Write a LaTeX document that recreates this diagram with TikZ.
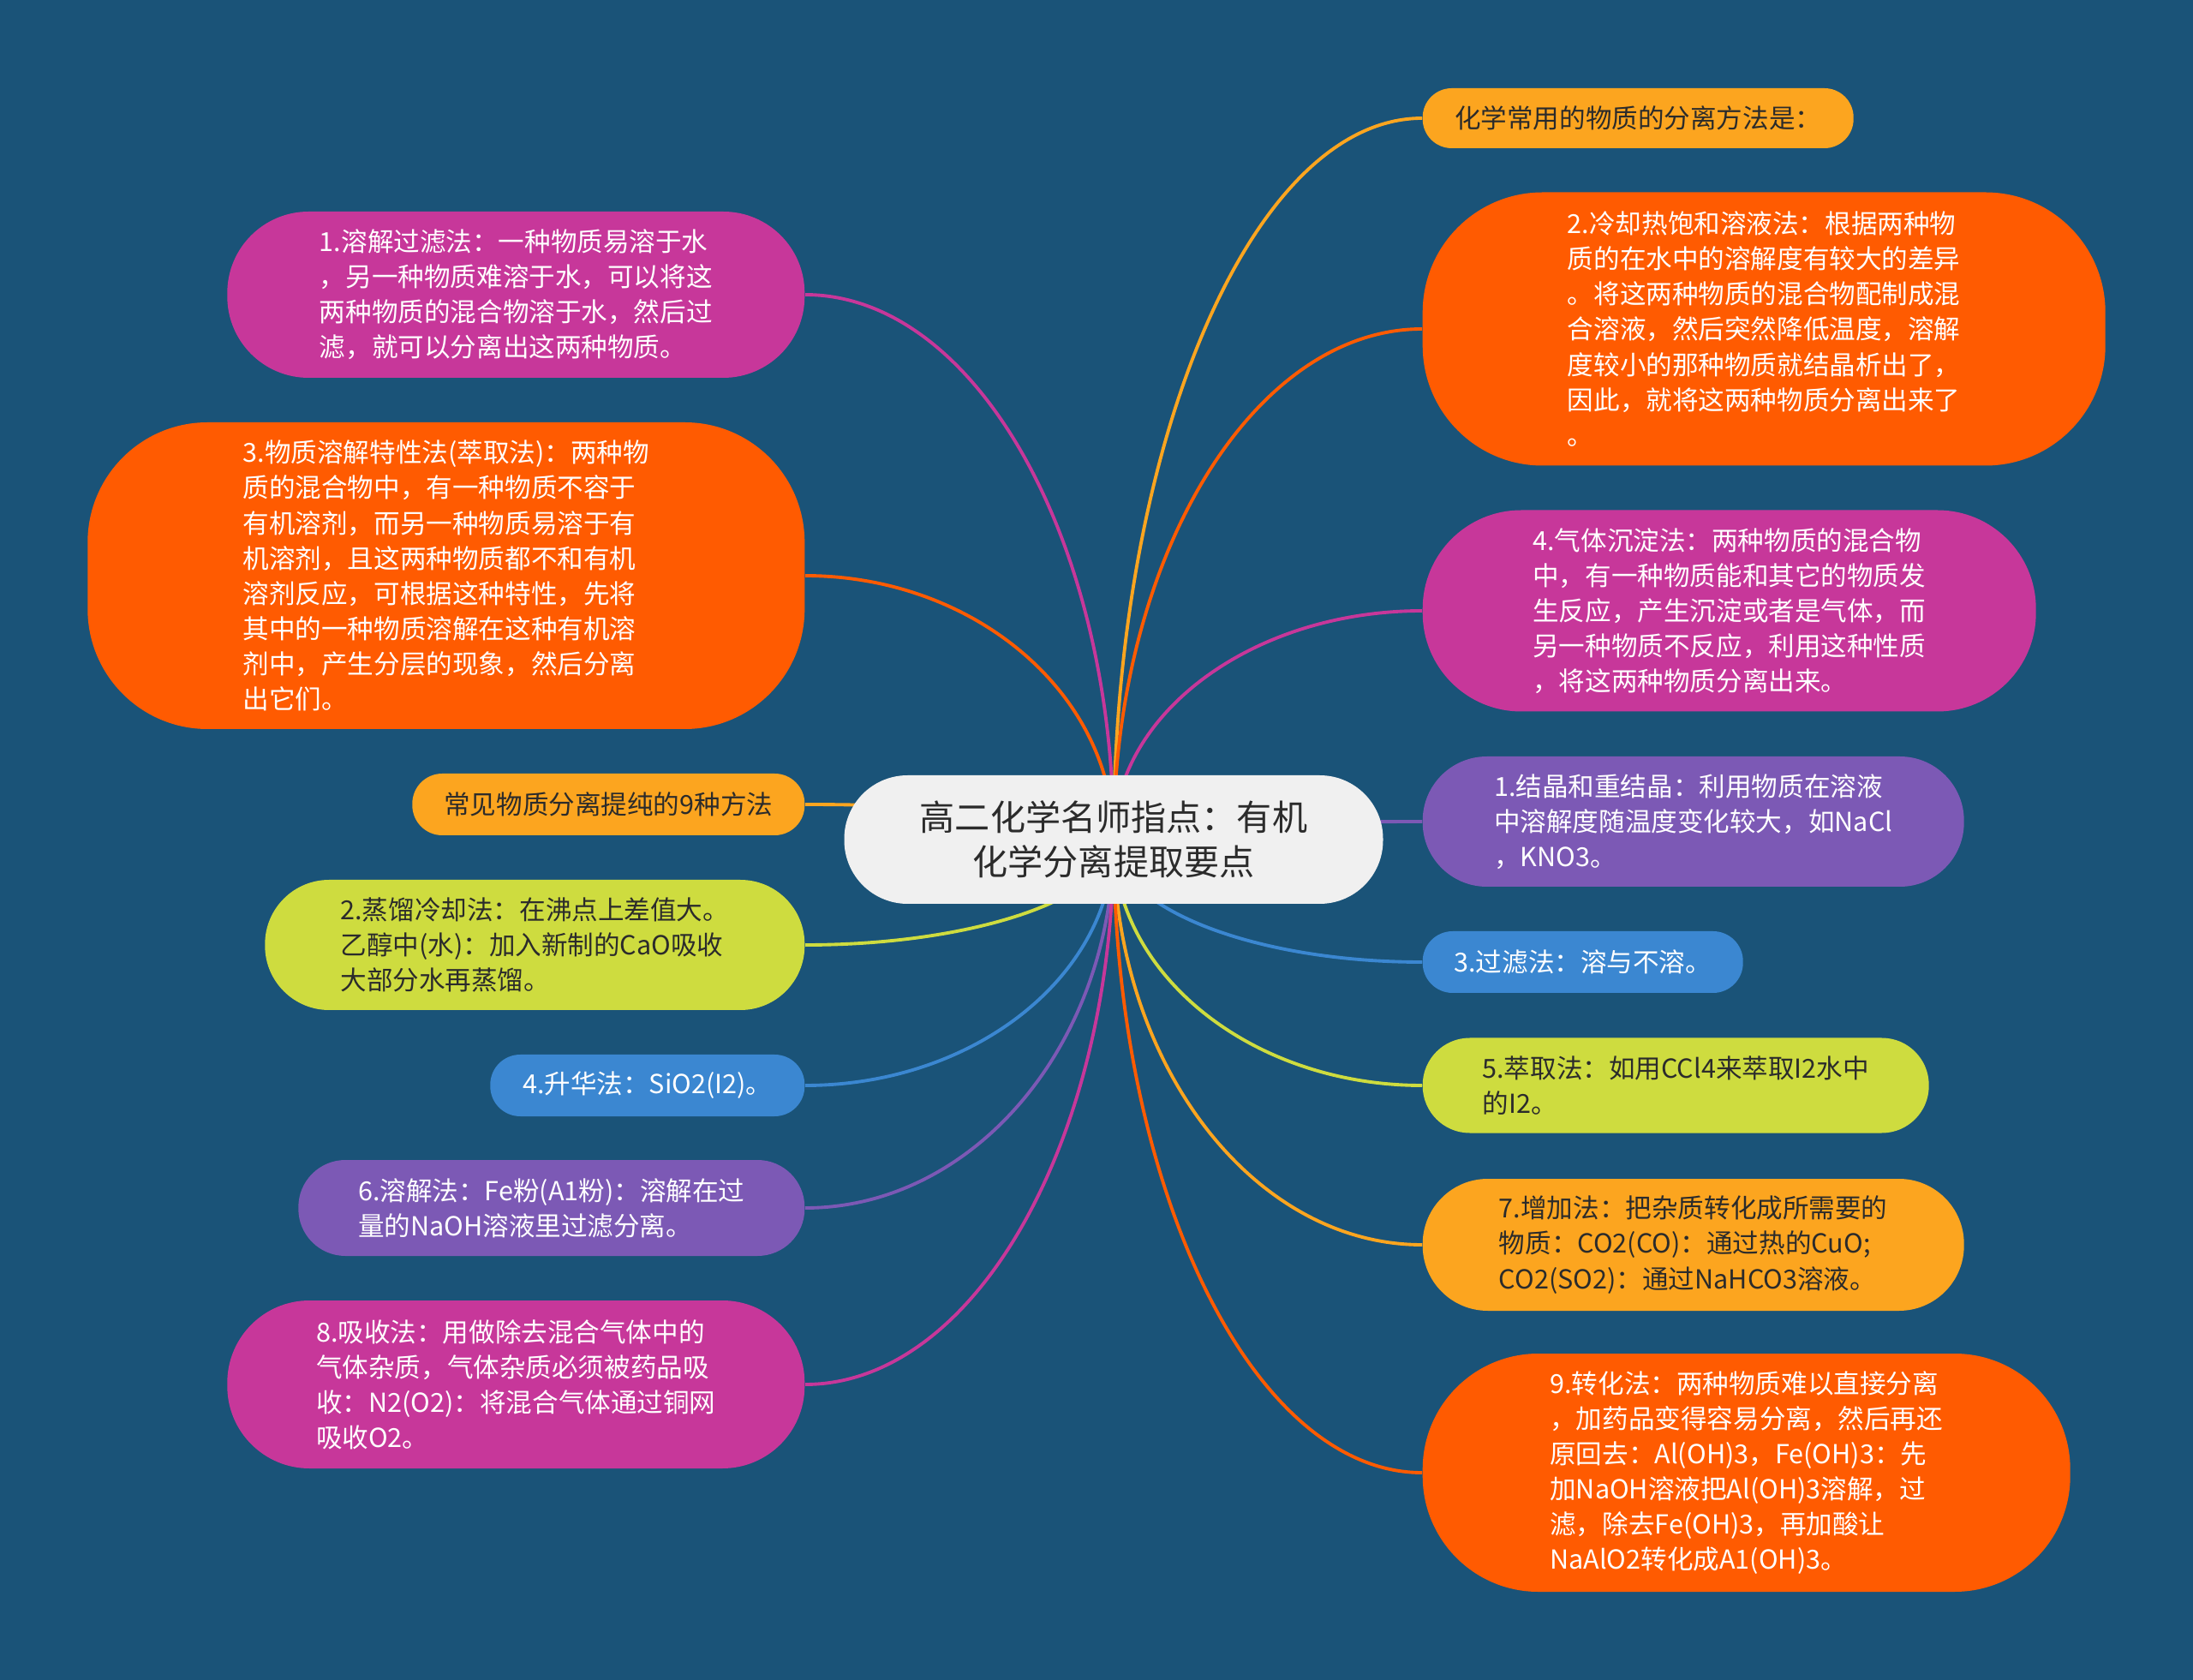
\documentclass[tikz,border=0pt]{standalone}
\usepackage{xcolor}
\usepackage{fontspec}
\usepackage{tikz}
\usetikzlibrary{positioning,calc,backgrounds}
\newfontfamily\zhfont{Noto Sans CJK SC}

\definecolor{bgBlue}{HTML}{1A5378}
\definecolor{cOrg}{HTML}{FF5B01}
\definecolor{cMag}{HTML}{C7379A}
\definecolor{cAmb}{HTML}{FCA51F}
\definecolor{cLime}{HTML}{CEDC3F}
\definecolor{cSky}{HTML}{3B87D1}
\definecolor{cVio}{HTML}{7C59B5}
\definecolor{cRoot}{HTML}{F0F0F0}
\definecolor{cInk}{HTML}{2B2B2B}

\begin{document}
\begin{tikzpicture}[
  topic/.style={fill=cRoot, text=cInk, align=center, inner sep=0pt,
                font=\zhfont\fontsize{11.7pt}{14.8pt}\selectfont,
                minimum width=6.29cm, minimum height=1.5cm, rounded corners=0.74cm},
  leaf/.style={fill=#1, text=white, align=left, inner sep=0pt,
               font=\zhfont\fontsize{8.7pt}{11.7pt}\selectfont},
  lnode/.style={leaf=#1, anchor=east},
  rnode/.style={leaf=#1, anchor=west},
  dark/.style={text=cInk},
  pill/.style n args={3}{minimum width=#1cm, minimum height=#2cm, rounded corners=#3cm},
  link/.style={draw=#1, line width=1.1pt,
    to path={.. controls ($(\tikztostart)!0.55!(\tikztostart|-\tikztotarget)$)
              and ($(\tikztotarget)!0.55!(\tikztostart|-\tikztotarget)$) .. (\tikztotarget)}},
]
% 中心主题
\node[topic] (root) at (13.0,-9.8) {高二化学名师指点：有机\\化学分离提取要点};

% 左侧分支（右边缘对齐 x=9.4）
\node[lnode=cMag, pill={6.74}{1.94}{0.95}] (dissolve) at (9.4,-3.44)
  {1.溶解过滤法：一种物质易溶于水\\，另一种物质难溶于水，可以将这\\两种物质的混合物溶于水，然后过\\滤，就可以分离出这两种物质。};
\node[lnode=cOrg, pill={8.37}{3.58}{1.4}] (solvent) at (9.4,-6.72)
  {3.物质溶解特性法(萃取法)：两种物\\质的混合物中，有一种物质不容于\\有机溶剂，而另一种物质易溶于有\\机溶剂，且这两种物质都不和有机\\溶剂反应，可根据这种特性，先将\\其中的一种物质溶解在这种有机溶\\剂中，产生分层的现象，然后分离\\出它们。};
\node[lnode=cAmb, dark, pill={4.58}{0.72}{0.35}] (nine) at (9.4,-9.39)
  {常见物质分离提纯的9种方法};
\node[lnode=cLime, dark, pill={6.30}{1.52}{0.75}] (distill) at (9.4,-11.03)
  {2.蒸馏冷却法：在沸点上差值大。\\乙醇中(水)：加入新制的CaO吸收\\大部分水再蒸馏。};
\node[lnode=cSky, pill={3.67}{0.72}{0.35}] (sublime) at (9.4,-12.67)
  {4.升华法：SiO2(I2)。};
\node[lnode=cVio, pill={5.91}{1.12}{0.55}] (dissolveB) at (9.4,-14.10)
  {6.溶解法：Fe粉(A1粉)：溶解在过\\量的NaOH溶液里过滤分离。};
\node[lnode=cMag, pill={6.74}{1.96}{0.96}] (absorb) at (9.4,-16.16)
  {8.吸收法：用做除去混合气体中的\\气体杂质，气体杂质必须被药品吸\\收：N2(O2)：将混合气体通过铜网\\吸收O2。};

% 右侧分支（左边缘对齐 x=16.6）
\node[rnode=cAmb, dark, pill={5.03}{0.70}{0.34}] (intro) at (16.6,-1.38)
  {化学常用的物质的分离方法是：};
\node[rnode=cOrg, pill={7.97}{3.19}{1.4}] (cooling) at (16.6,-3.84)
  {2.冷却热饱和溶液法：根据两种物\\质的在水中的溶解度有较大的差异\\。将这两种物质的混合物配制成混\\合溶液，然后突然降低温度，溶解\\度较小的那种物质就结晶析出了，\\因此，就将这两种物质分离出来了\\。};
\node[rnode=cMag, pill={7.16}{2.35}{1.15}] (gas) at (16.6,-7.13)
  {4.气体沉淀法：两种物质的混合物\\中，有一种物质能和其它的物质发\\生反应，产生沉淀或者是气体，而\\另一种物质不反应，利用这种性质\\，将这两种物质分离出来。};
\node[rnode=cVio, pill={6.32}{1.52}{0.75}] (cryst) at (16.6,-9.59)
  {1.结晶和重结晶：利用物质在溶液\\中溶解度随温度变化较大，如NaCl\\，KNO3。};
\node[rnode=cSky, pill={3.74}{0.72}{0.35}] (filter) at (16.6,-11.23)
  {3.过滤法：溶与不溶。};
\node[rnode=cLime, dark, pill={5.91}{1.11}{0.55}] (extract) at (16.6,-12.67)
  {5.萃取法：如用CCl4来萃取I2水中\\的I2。};
\node[rnode=cAmb, dark, pill={6.32}{1.54}{0.76}] (addm) at (16.6,-14.53)
  {7.增加法：把杂质转化成所需要的\\物质：CO2(CO)：通过热的CuO;\\CO2(SO2)：通过NaHCO3溶液。};
\node[rnode=cOrg, pill={7.56}{2.78}{1.35}] (convert) at (16.6,-17.19)
  {9.转化法：两种物质难以直接分离\\，加药品变得容易分离，然后再还\\原回去：Al(OH)3，Fe(OH)3：先\\加NaOH溶液把Al(OH)3溶解，过\\滤，除去Fe(OH)3，再加酸让\\NaAlO2转化成A1(OH)3。};

% 底色与连线放在背景层
\begin{scope}[on background layer]
  \fill[bgBlue] (0,0) rectangle (25.6,-19.61);
  \draw[link=cMag]  (root.center) to (dissolve.east);
  \draw[link=cOrg]  (root.center) to (solvent.east);
  \draw[link=cAmb]  (root.center) to (nine.east);
  \draw[link=cLime] (root.center) to (distill.east);
  \draw[link=cSky]  (root.center) to (sublime.east);
  \draw[link=cVio]  (root.center) to (dissolveB.east);
  \draw[link=cMag]  (root.center) to (absorb.east);
  \draw[link=cAmb]  (root.center) to (intro.west);
  \draw[link=cOrg]  (root.center) to (cooling.west);
  \draw[link=cMag]  (root.center) to (gas.west);
  \draw[link=cVio]  (root.center) to (cryst.west);
  \draw[link=cSky]  (root.center) to (filter.west);
  \draw[link=cLime] (root.center) to (extract.west);
  \draw[link=cAmb]  (root.center) to (addm.west);
  \draw[link=cOrg]  (root.center) to (convert.west);
\end{scope}
\end{tikzpicture}
\end{document}
